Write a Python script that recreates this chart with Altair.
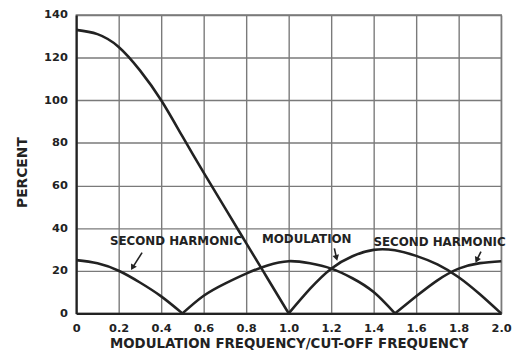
import altair as alt
import pandas as pd

# ---- data ----
# Modulation, first lobe (0 .. 1.0)
mod1_x = [0.0, 0.1, 0.2, 0.3, 0.4, 0.5, 0.6, 0.7, 0.8, 0.9, 1.0]
mod1_y = [133, 131, 125, 114, 100, 83, 66, 49.5, 33, 16.5, 0]
# Modulation, second lobe (1.0 .. 2.0)
mod2_x = [1.0, 1.1, 1.2, 1.3, 1.4, 1.5, 1.6, 1.7, 1.8, 1.9, 2.0]
mod2_y = [0, 11.5, 21, 26.8, 29.8, 29.6, 27, 23, 17, 9, 0]
# Second harmonic pieces
sh1_x = [0.0, 0.1, 0.2, 0.3, 0.4, 0.5]
sh1_y = [25, 23.5, 20, 14.5, 8, 0]
sh2_x = [0.5, 0.6, 0.7, 0.8, 0.9, 1.0, 1.1, 1.2, 1.3, 1.4, 1.5]
sh2_y = [0, 8.3, 14, 18.7, 22.5, 24.5, 23.5, 21, 16.5, 10, 0]
sh3_x = [1.5, 1.6, 1.7, 1.8, 1.9, 2.0]
sh3_y = [0, 8, 15.5, 21, 23.6, 24.5]

x_ticks = [0, 0.2, 0.4, 0.6, 0.8, 1.0, 1.2, 1.4, 1.6, 1.8, 2.0]
y_ticks = [0, 20, 40, 60, 80, 100, 120, 140]

# annotations
label_text = ["SECOND HARMONIC", "MODULATION", "SECOND HARMONIC"]
label_x = [0.47, 1.085, 1.71]
label_y = [34, 34.7, 33.3]
arrow_x1 = [0.31, 1.215, 1.905]
arrow_y1 = [28.5, 30.5, 29]
arrow_x2 = [0.265, 1.225, 1.885]
arrow_y2 = [21.5, 26.0, 25]
arrow_angle = [30, 345, 25]

FONT = "DejaVu Sans"
INK = "#222222"
GRID = "#7a7a7a"

rows = []
for name, xs, ys in [("m1", mod1_x, mod1_y), ("m2", mod2_x, mod2_y),
                     ("s1", sh1_x, sh1_y), ("s2", sh2_x, sh2_y), ("s3", sh3_x, sh3_y)]:
    for xv, yv in zip(xs, ys):
        rows.append({"x": xv, "y": yv, "seg": name})
curves = pd.DataFrame(rows)

labels = pd.DataFrame({"text": label_text, "x": label_x, "y": label_y})
arrows = pd.DataFrame({"x": arrow_x1, "y": arrow_y1, "x2": arrow_x2, "y2": arrow_y2,
                       "angle": arrow_angle})

xscale = alt.Scale(domain=[0, 2], nice=False, zero=False)
yscale = alt.Scale(domain=[0, 140], nice=False)

x_axis = alt.Axis(values=x_ticks, grid=True, gridColor=GRID, gridWidth=1.4, gridOpacity=1,
                  domainColor=INK, domainWidth=2.2, ticks=False,
                  labelExpr="datum.value == 0 ? '0' : format(datum.value, '.1f')",
                  labelFont=FONT, labelFontSize=11.5, labelFontWeight="bold", labelColor=INK,
                  labelPadding=9, labelFlush=False,
                  title="MODULATION FREQUENCY/CUT-OFF FREQUENCY",
                  titleFont=FONT, titleFontSize=13.5, titleFontWeight="bold", titleColor=INK,
                  titlePadding=3)
y_axis = alt.Axis(values=y_ticks, grid=True, gridColor=GRID, gridWidth=1.4, gridOpacity=1,
                  domainColor=INK, domainWidth=2.2, ticks=False,
                  labelFont=FONT, labelFontSize=11.5, labelFontWeight="bold", labelColor=INK,
                  labelPadding=9, labelFlush=False,
                  title="PERCENT", titleFont=FONT, titleFontSize=14, titleFontWeight="bold",
                  titleColor=INK, titlePadding=14, titleY=159)

lines = alt.Chart(curves).mark_line(color=INK, strokeWidth=2.6, interpolate="natural").encode(
    x=alt.X("x:Q", scale=xscale, axis=x_axis),
    y=alt.Y("y:Q", scale=yscale, axis=y_axis),
    detail="seg:N",
)

text = alt.Chart(labels).mark_text(font=FONT, fontSize=12, fontWeight="bold", color=INK).encode(
    x=alt.X("x:Q", scale=xscale), y=alt.Y("y:Q", scale=yscale), text="text:N"
)

arrow_lines = alt.Chart(arrows).mark_rule(color=INK, strokeWidth=1.6).encode(
    x=alt.X("x:Q", scale=xscale), y=alt.Y("y:Q", scale=yscale), x2="x2:Q", y2="y2:Q"
)
arrow_heads = alt.Chart(arrows).mark_point(shape="triangle-down", filled=True, color=INK,
                                            size=45, opacity=1).encode(
    x=alt.X("x2:Q", scale=xscale), y=alt.Y("y2:Q", scale=yscale), angle=alt.Angle("angle:Q", scale=None)
)

chart = alt.layer(lines, text, arrow_lines, arrow_heads).properties(
    width=430, height=302,
    autosize=alt.AutoSizeParams(type="none"),
    padding={"left": 69, "top": 5, "right": 14, "bottom": 37},
    background="white",
).configure_view(stroke=GRID, strokeWidth=1.4)

chart.save("out.html", embed_options={"renderer": "svg", "actions": False})
